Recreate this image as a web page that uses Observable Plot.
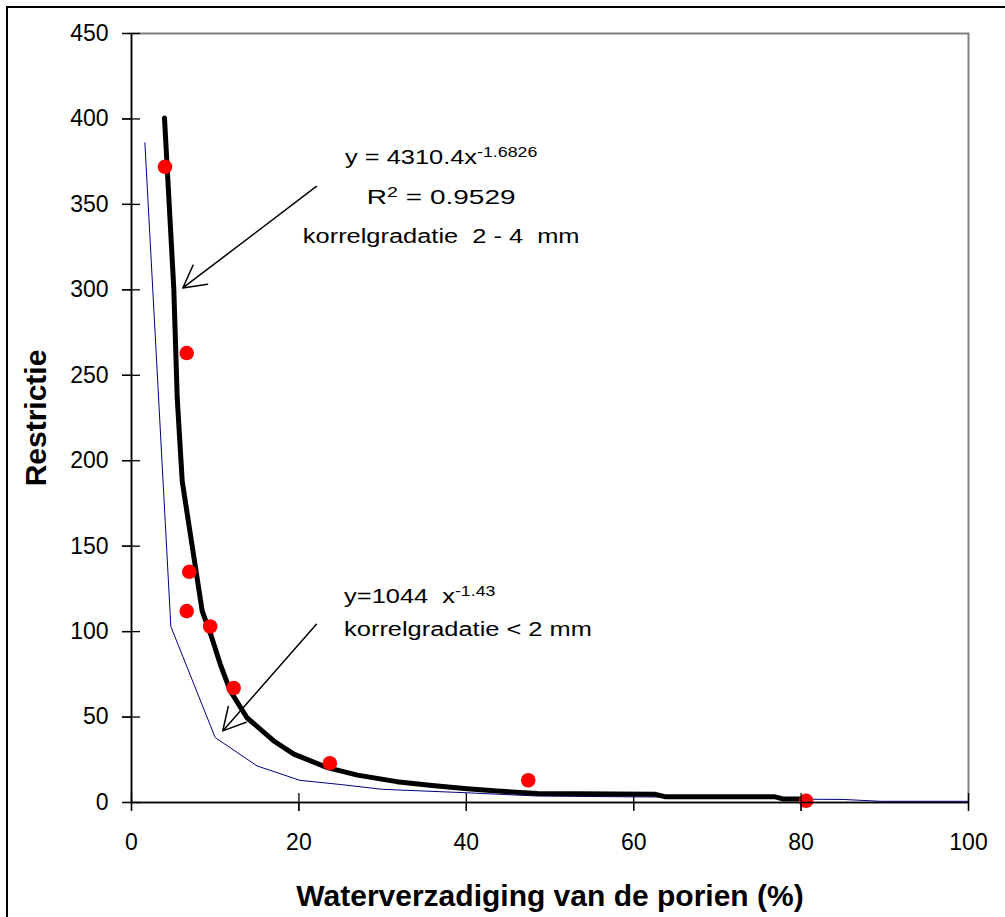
<!DOCTYPE html>
<html>
<head>
<meta charset="utf-8">
<script src="https://cdn.jsdelivr.net/npm/d3@7"></script>
<script src="https://cdn.jsdelivr.net/npm/@observablehq/plot@0.6"></script>
<style>
  html, body { margin: 0; padding: 0; background: #fff; }
  #wrap { position: relative; width: 1005px; height: 917px; overflow: hidden; background: #fff; }
  #border { position: absolute; left: 6px; top: 6px; right: -20px; bottom: -20px; border-left: 2px solid #000; border-top: 2px solid #000; pointer-events: none; }
  svg text { white-space: pre; }
</style>
</head>
<body>
<div id="wrap"><div id="border"></div></div>
<script>
// ---- data ----
const xTicks = [0, 20, 40, 60, 80, 100];
const yTicks = [0, 50, 100, 150, 200, 250, 300, 350, 400, 450];

// measured points
const pointX = [4.0, 6.6, 6.9, 6.6, 9.4, 12.2, 23.7, 47.4, 80.6];
const pointY = [372, 263, 135, 112, 103, 67, 23, 13, 1];

// power trendline 2-4 mm
const fitX = [3.94, 5.05, 5.25, 5.46, 6.06, 6.97, 8.45, 9.44, 10.6, 11.8, 13.8, 17.0, 19.4, 23.4, 27.0, 31.7, 35.9, 40.1, 43.7, 48.5, 62.6, 63.7, 76.8, 77.8, 80.9];
const fitY = [400.6, 301, 270, 237, 188, 159, 112, 98.7, 81, 65.3, 49.6, 36, 28.3, 20.4, 16.0, 12.2, 10, 8.1, 6.7, 5.2, 4.8, 3.4, 3.4, 2.1, 2.1];

// curve < 2 mm
const fineX = [1.6, 4.7, 10.0, 15.0, 20.1, 25, 30, 40, 48.5, 60, 70, 81, 85, 89.5, 100];
const fineY = [386, 103, 38, 21.4, 13, 10.5, 7.7, 5.7, 3.8, 3.3, 3.0, 1.9, 1.8, 0.7, 0.7];

// annotation texts (^...^ marks a superscript)
const annot1Text = ["y = 4310.4x^-1.6826", "R^2^ = 0.9529", "korrelgradatie  2 - 4  mm"];
const annot1X = [37.0, 37.0, 37.0];
const annot1Y = [373.5, 350.0, 327.6];
const annot2Text = ["y=1044  x^-1.43", "korrelgradatie < 2 mm"];
const annot2X = [25.4, 25.4];
const annot2Y = [117.0, 97.5];

// arrows
const arrowX1 = [22.09, 22.09];
const arrowY1 = [360.5, 104.3];
const arrowX2 = [6.13, 10.9];
const arrowY2 = [301.1, 41.9];

const xTitle = "Waterverzadiging van de porien (%)";
const yTitle = "Restrictie";

// ---- tables ----
const points = pointX.map((x, i) => ({x, y: pointY[i]}));
const fit = fitX.map((x, i) => ({x, y: fitY[i]}));
const fine = fineX.map((x, i) => ({x, y: fineY[i]}));
const annot1 = annot1Text.map((t, i) => ({t, x: annot1X[i], y: annot1Y[i]}));
const annot2 = annot2Text.map((t, i) => ({t, x: annot2X[i], y: annot2Y[i]}));
const arrows = arrowX1.map((x1, i) => ({x1, y1: arrowY1[i], x2: arrowX2[i], y2: arrowY2[i]}));

const W = 1005, H = 917, mL = 131, mR = 37, mT = 33, mB = 115;
const frameW = W - mL - mR, frameH = H - mT - mB;

const chart = Plot.plot({
  width: W,
  height: H,
  marginLeft: mL,
  marginRight: mR,
  marginTop: mT,
  marginBottom: mB,
  style: {fontFamily: "'Liberation Sans', Arial, sans-serif", color: "#000", background: "#fff", overflow: "visible"},
  x: {domain: [0, 100]},
  y: {domain: [0, 450]},
  marks: [
    Plot.frame({stroke: "#808080", strokeWidth: 2}),
    Plot.line(fine, {x: "x", y: "y", stroke: "#000080", strokeWidth: 1}),
    Plot.line(fit, {x: "x", y: "y", stroke: "#000", strokeWidth: 5, strokeLinejoin: "round", strokeLinecap: "round"}),
    Plot.dot(points, {x: "x", y: "y", r: 7.3, fill: "#ff0000", stroke: null}),
    Plot.ruleX([0], {stroke: "#000", strokeWidth: 1.5}),
    Plot.ruleY([0], {stroke: "#000", strokeWidth: 1.5}),
    // axes labels + cross ticks
    Plot.axisY({ticks: yTicks, tickSize: 9, tickPadding: 14, fontSize: 23, label: null, tickFormat: d => String(d), stroke: "#000", strokeWidth: 1.3, fill: "#000"}),
    Plot.axisX({ticks: xTicks, tickSize: 9, tickPadding: 22, fontSize: 23, label: null, tickFormat: d => String(d), stroke: "#000", strokeWidth: 1.3, fill: "#000"}),
    Plot.tickY(yTicks, {y: d => d, insetLeft: -9, insetRight: frameW - 9, stroke: "#000", strokeWidth: 1.3}),
    Plot.tickX(xTicks, {x: d => d, insetTop: frameH - 9, insetBottom: -9, stroke: "#000", strokeWidth: 1.3}),
    // axis titles
    Plot.text([xTitle], {frameAnchor: "bottom", dy: 103, lineAnchor: "bottom", textAnchor: "middle", fontSize: 30, fontWeight: "bold", fill: "#000"}),
    Plot.text([yTitle], {frameAnchor: "left", dx: -86, rotate: -90, lineAnchor: "bottom", textAnchor: "middle", fontSize: 30, fontWeight: "bold", fill: "#000"}),
    // arrows
    Plot.arrow(arrows, {x1: "x1", y1: "y1", x2: "x2", y2: "y2", stroke: "#000", strokeWidth: 1.5, headLength: 25, headAngle: 57}),
    // annotations
    Plot.text(annot1, {x: "x", y: "y", text: "t", textAnchor: "middle", lineAnchor: "bottom", fontSize: 20, fill: "#000"}),
    Plot.text(annot2, {x: "x", y: "y", text: "t", textAnchor: "start", lineAnchor: "bottom", fontSize: 20, fill: "#000"})
  ]
});

document.getElementById("wrap").insertBefore(chart, document.getElementById("border"));

// superscripts and Excel-like wide text
const svgns = "http://www.w3.org/2000/svg";
const annSet = new Set([...annot1Text, ...annot2Text]);
d3.select(chart).selectAll("text").each(function() {
  const t = this.textContent;
  if (!annSet.has(t)) return;
  const parts = t.split("^");
  if (parts.length > 1) {
    this.textContent = "";
    parts.forEach((p, i) => {
      if (!p) return;
      const ts = document.createElementNS(svgns, "tspan");
      ts.textContent = p;
      if (i % 2 === 1) { ts.setAttribute("font-size", "14"); ts.setAttribute("dy", "-7"); }
      else if (i > 0) { ts.setAttribute("dy", "7"); }
      this.appendChild(ts);
    });
  }
  const sx = t.startsWith("R^") ? 1.4 : 1.27;
  const tr = this.getAttribute("transform");
  if (tr) {
    this.setAttribute("transform", tr + ` scale(${sx},1)`);
  } else {
    const x = +this.getAttribute("x") || 0, y = +this.getAttribute("y") || 0;
    this.removeAttribute("x"); this.removeAttribute("y");
    this.setAttribute("transform", `translate(${x},${y}) scale(${sx},1)`);
  }
});
</script>
</body>
</html>
